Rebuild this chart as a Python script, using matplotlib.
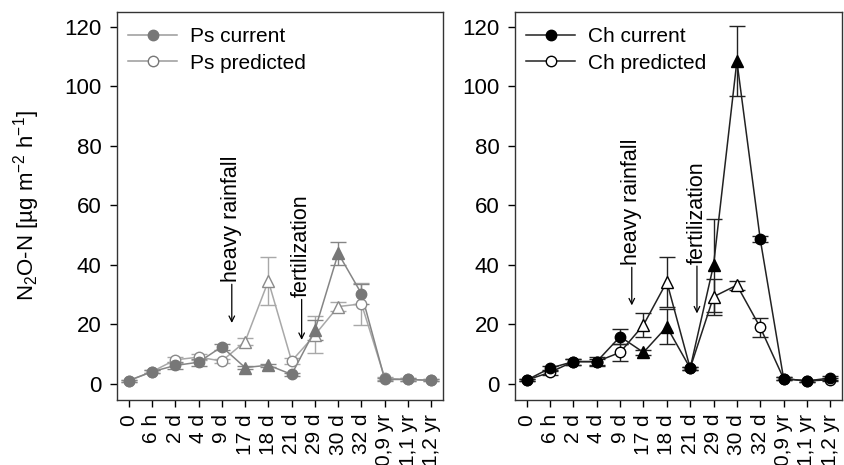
import numpy as np
import matplotlib.pyplot as plt
from matplotlib.lines import Line2D

plt.rcParams['font.family'] = ['Liberation Sans', 'DejaVu Sans']
plt.rcParams['mathtext.default'] = 'regular'

# sampling times
times = ['0', '6 h', '2 d', '4 d', '9 d', '17 d', '18 d', '21 d', '29 d', '30 d', '32 d',
         '0,9 yr', '1,1 yr', '1,2 yr']
# which points are drawn as triangles (the rest are circles)
tri_idx = [5, 6, 8, 9]

# Ps panel
ps_current = [1.1, 4.1, 6.2, 7.3, 12.5, 5.5, 6.3, 3.2, 18.1, 43.9, 30.3, 1.5, 1.5, 1.2]
ps_current_err = [0.3, 0.5, 1.2, 1.2, 1.0, 0.5, 0.5, 0.5, 3.5, 3.8, 3.3, 0.5, 0.5, 0.3]
ps_predicted = [1.1, 4.1, 8.1, 9.0, 7.7, 14.2, 34.6, 7.7, 16.5, 26.0, 26.9, 1.9, 1.5, 1.2]
ps_predicted_err = [0.3, 0.5, 1.0, 1.0, 0.8, 1.2, 8.2, 1.0, 6.2, 1.5, 7.0, 0.5, 0.5, 0.3]

# Ch panel
ch_current = [1.3, 5.3, 7.5, 7.5, 15.9, 10.6, 19.2, 5.3, 39.9, 108.5, 48.6, 1.8, 1.0, 2.0]
ch_current_err = [0.3, 0.8, 1.0, 1.0, 2.4, 0.8, 5.9, 0.5, 15.6, 11.7, 1.0, 0.5, 0.3, 0.8]
ch_predicted = [1.3, 3.9, 7.5, 7.5, 10.6, 19.8, 34.3, 5.3, 29.3, 33.2, 19.0, 1.8, 1.0, 1.4]
ch_predicted_err = [0.3, 0.8, 1.0, 1.5, 2.8, 3.9, 8.4, 0.5, 6.0, 1.5, 3.2, 0.5, 0.3, 0.5]

x = np.arange(len(times))
circ_idx = [i for i in x if i not in tri_idx]


def draw_series(ax, y, err, color, lcolor, filled):
    y = np.array(y)
    face = color if filled else 'white'
    ax.errorbar(x, y, yerr=err, fmt='none', ecolor=lcolor, elinewidth=1, capsize=6,
                capthick=1, zorder=2)
    ax.plot(x, y, '-', color=lcolor, lw=1.1, zorder=3)
    ax.plot(x[circ_idx], y[circ_idx], 'o', ms=7.5, mfc=face, mec=color, mew=1, zorder=4)
    ax.plot(x[tri_idx], y[tri_idx], '^', ms=8, mfc=face, mec=color, mew=1, zorder=4)


def arrow_label(ax, xpos, txt, base, tip):
    ax.text(xpos, base, txt, rotation=90, ha='center', va='bottom', fontsize=15.5)
    ax.annotate('', xy=(xpos, tip), xytext=(xpos, base - 0.8),
                arrowprops=dict(arrowstyle='->', color='black', lw=0.9,
                                shrinkA=0, shrinkB=0, mutation_scale=10))


fig = plt.figure(figsize=(8.45, 4.65), dpi=100)
ax1 = fig.add_axes([117 / 845, 1 - 400 / 465, 326 / 845, 388 / 465])
ax2 = fig.add_axes([515 / 845, 1 - 400 / 465, 327 / 845, 388 / 465])

# Ps panel in gray
draw_series(ax1, ps_predicted, ps_predicted_err, '#8a8a8a', '#a8a8a8', False)
draw_series(ax1, ps_current, ps_current_err, '#777777', '#858585', True)
arrow_label(ax1, 4.43, 'heavy rainfall', 34.3, 20.5)
arrow_label(ax1, 7.43, 'fertilization', 29.2, 14.8)

# Ch panel in black
draw_series(ax2, ch_predicted, ch_predicted_err, 'black', '#222222', False)
draw_series(ax2, ch_current, ch_current_err, 'black', '#222222', True)
arrow_label(ax2, 4.5, 'heavy rainfall', 40.0, 26.4)
arrow_label(ax2, 7.29, 'fertilization', 40.4, 23.7)

legends = [(ax1, 'Ps', '#777777', '#9a9a9a'), (ax2, 'Ch', 'black', '#222222')]
for ax, name, col, lcol in legends:
    h1 = Line2D([], [], color=lcol, lw=1.1, marker='o', ms=7.5, mfc=col, mec=col)
    h2 = Line2D([], [], color=lcol, lw=1.1, marker='o', ms=7.5, mfc='white', mec=col)
    ax.legend([h1, h2], [name + ' current', name + ' predicted'], loc='upper left',
              bbox_to_anchor=(0.0, 0.99), frameon=False, fontsize=15, handlelength=2.35,
              handletextpad=0.6, labelspacing=0.35, borderaxespad=0.15)

for ax in (ax1, ax2):
    ax.set_xlim(-0.5, 13.5)
    ax.set_ylim(-5.4, 125)
    ax.set_yticks(range(0, 121, 20))
    ax.set_xticks(x)
    ax.set_xticklabels(times, rotation=90, fontsize=15)
    ax.tick_params(axis='y', labelsize=16, length=5, width=1, direction='out', pad=6)
    ax.tick_params(axis='x', length=5, width=1, direction='out', pad=5)
    for s in ax.spines.values():
        s.set_color('#333333')
        s.set_linewidth(1)

ax1.set_ylabel('N$_2$O-N [µg m$^{-2}$ h$^{-1}$]', fontsize=16)
ax1.yaxis.set_label_coords(-0.23, 0.5)

fig.savefig('out.png', dpi=100)
